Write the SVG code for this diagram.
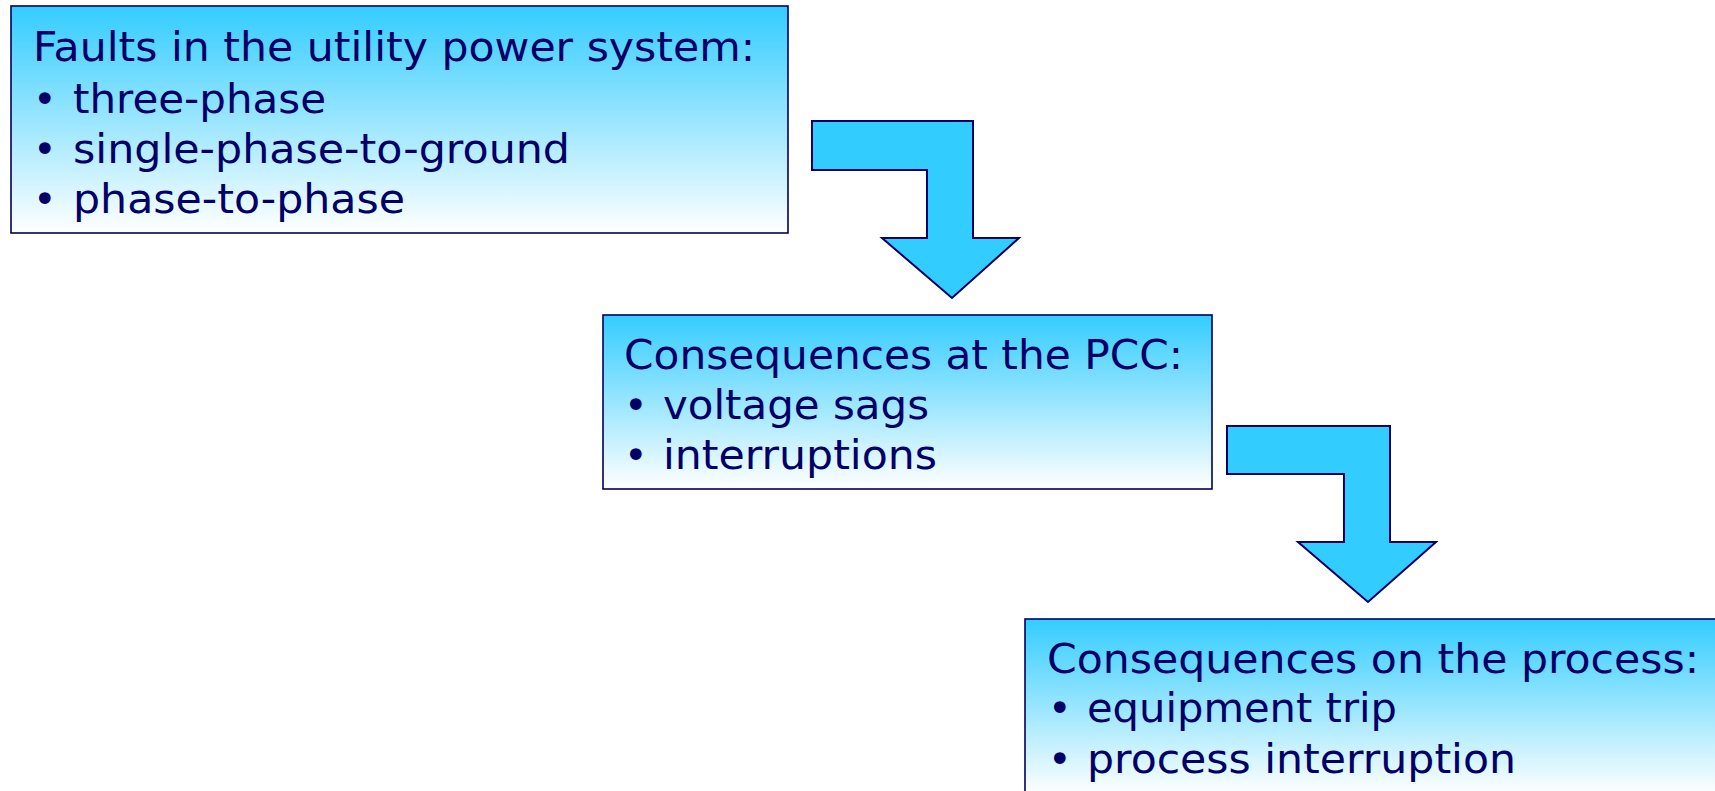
<svg xmlns="http://www.w3.org/2000/svg" width="1715" height="791" viewBox="0 0 1715 791">
<style>
.box{stroke:#00005e;stroke-width:1.6}
.arrow{fill:#33ccff;stroke:#000066;stroke-width:2;stroke-linejoin:miter}
text{font-family:"DejaVu Sans","Verdana",sans-serif;font-size:40px;fill:#000066}
</style>
<defs>
<linearGradient id="g" x1="0" y1="0" x2="0" y2="1">
<stop offset="0" stop-color="#33ccff"/>
<stop offset="1" stop-color="#ffffff"/>
</linearGradient>
</defs>
<rect width="1715" height="791" fill="#ffffff"/>
<g id="connectors">
<polygon class="arrow" points="812,121 973,121 973,238 1019,238 952,298 882,238 927,238 927,170 812,170"/>
<polygon class="arrow" points="1227,426 1390,426 1390,542 1436,542 1368,602 1298,542 1344,542 1344,474 1227,474"/>
</g>
<g id="node1">
<rect class="box" x="11" y="6" width="777" height="227" fill="url(#g)"/>
<text x="33" y="61" textLength="722" lengthAdjust="spacingAndGlyphs">Faults in the utility power system:</text>
<text x="33" y="113">•</text>
<text x="73" y="113" textLength="253" lengthAdjust="spacingAndGlyphs">three-phase</text>
<text x="33" y="163">•</text>
<text x="73" y="163" textLength="497" lengthAdjust="spacingAndGlyphs">single-phase-to-ground</text>
<text x="33" y="213">•</text>
<text x="73" y="213" textLength="332" lengthAdjust="spacingAndGlyphs">phase-to-phase</text>
</g>
<g id="node2">
<rect class="box" x="603" y="315" width="609" height="174" fill="url(#g)"/>
<text x="624" y="369" textLength="559" lengthAdjust="spacingAndGlyphs">Consequences at the PCC:</text>
<text x="624" y="419">•</text>
<text x="663" y="419" textLength="266" lengthAdjust="spacingAndGlyphs">voltage sags</text>
<text x="624" y="469">•</text>
<text x="663" y="469" textLength="274" lengthAdjust="spacingAndGlyphs">interruptions</text>
</g>
<g id="node3">
<rect class="box" x="1025" y="619" width="720" height="176" fill="url(#g)"/>
<text x="1047" y="673" textLength="652" lengthAdjust="spacingAndGlyphs">Consequences on the process:</text>
<text x="1048" y="722">•</text>
<text x="1087" y="722" textLength="310" lengthAdjust="spacingAndGlyphs">equipment trip</text>
<text x="1048" y="773">•</text>
<text x="1087" y="773" textLength="429" lengthAdjust="spacingAndGlyphs">process interruption</text>
</g>
</svg>
